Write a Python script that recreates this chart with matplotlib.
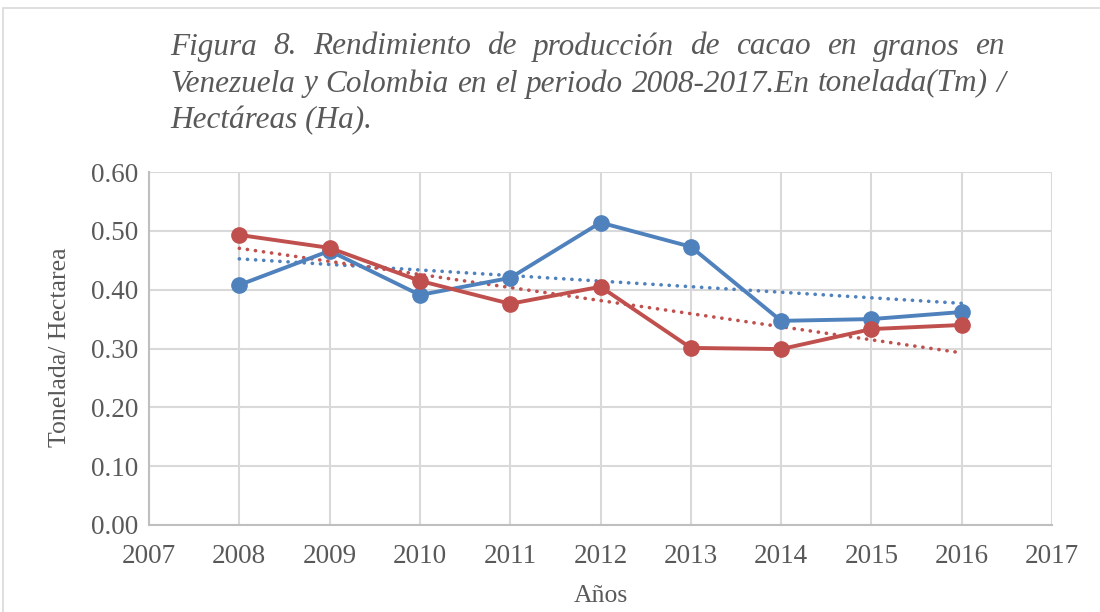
import numpy as np
import matplotlib
matplotlib.use("Agg")
import matplotlib.pyplot as plt
from matplotlib.patches import Rectangle

# data
years = [2008, 2009, 2010, 2011, 2012, 2013, 2014, 2015, 2016]
venezuela = [0.408, 0.466, 0.391, 0.420, 0.514, 0.473, 0.347, 0.350, 0.362]
colombia = [0.493, 0.471, 0.415, 0.376, 0.405, 0.301, 0.299, 0.333, 0.340]
yticks = [0.0, 0.1, 0.2, 0.3, 0.4, 0.5, 0.6]
xticks = list(range(2007, 2018))

title_lines = [
    "Figura 8. Rendimiento de producción de cacao en granos en",
    "Venezuela y Colombia en el periodo 2008-2017.En tonelada(Tm) /",
    "Hectáreas (Ha).",
]

blue = "#4f81bd"
red = "#c0504d"
txt = "#595959"
grid = "#d9d9d9"

plt.rcParams['font.family'] = ['Liberation Serif', 'DejaVu Serif']

fig = plt.figure(figsize=(11, 6.12), dpi=100)
ax = fig.add_axes([149/1100, 1 - 525/612, (1052 - 149)/1100, (525 - 172)/612])

x = np.array(years)
for vals, col in [(venezuela, blue), (colombia, red)]:
    ax.plot(years, vals, color=col, lw=2.8, marker='o', ms=11, zorder=4)
    m, b = np.polyfit(x, vals, 1)
    ax.plot(years, m * x + b, color=col, lw=2.6, linestyle=(0, (0.05, 2.2)),
            dash_capstyle='round', zorder=3)

ax.set_xlim(2007, 2017)
ax.set_ylim(0, 0.6)
ax.set_xticks(xticks)
ax.set_yticks(yticks)
ax.set_yticklabels([f"{v:.2f}" for v in yticks])
ax.grid(True, color=grid, lw=1.5)
ax.set_axisbelow(True)
for s in ['top', 'right']:
    ax.spines[s].set_visible(False)
for s in ['left', 'bottom']:
    ax.spines[s].set_color("#bfbfbf")
    ax.spines[s].set_linewidth(1.5)
ax.tick_params(length=0, labelsize=19.5, colors=txt, pad=8)
ax.tick_params(axis='x', pad=14)

fig.text(60/1100, 1 - 347/612, "Tonelada/ Hectarea", rotation=90,
         ha='center', va='center', fontsize=18.5, color=txt)
fig.text(601/1100, 1 - 596/612, "Años", ha='center', va='center',
         fontsize=18.5, color=txt)

# justified italic title
fig.canvas.draw()
r = fig.canvas.get_renderer()
left, right = 170, 1005
fs = 22.5
tops = [47, 84, 121]
for i, line in enumerate(title_lines):
    yy = 1 - tops[i]/612
    if i == len(title_lines) - 1:
        fig.text(left/1100, yy, line, fontsize=fs, style='italic', color=txt,
                 ha='left', va='center')
        continue
    words = line.split(" ")
    widths = []
    for w in words:
        t = fig.text(0, 0, w, fontsize=fs, style='italic')
        widths.append(t.get_window_extent(r).width)
        t.remove()
    gap = (right - left - sum(widths)) / (len(words) - 1)
    pos = left
    for w, wd in zip(words, widths):
        fig.text(pos/1100, yy, w, fontsize=fs, style='italic', color=txt,
                 ha='left', va='center')
        pos += wd + gap

fig.patches.append(Rectangle((3/1100, -0.1), 1.2, 1 - 8/612 + 0.1,
                             transform=fig.transFigure, fill=False,
                             edgecolor="#d9d9d9", lw=1.2))

fig.savefig("out.png", dpi=100)
